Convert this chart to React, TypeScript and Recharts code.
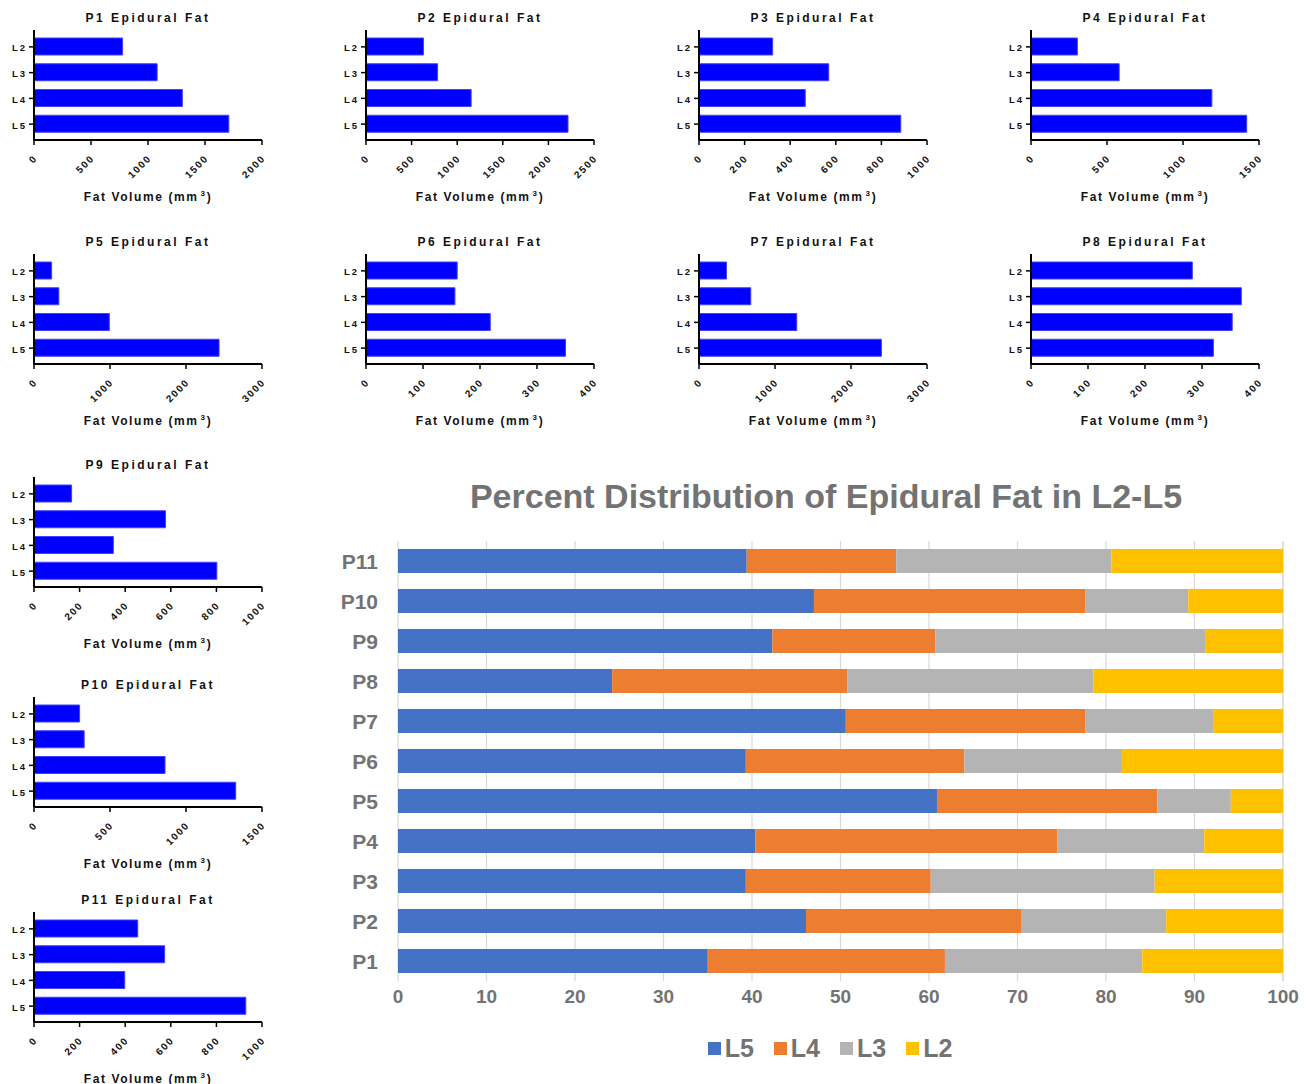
import React from 'react';
import { BarChart, Bar, XAxis, YAxis, CartesianGrid } from 'recharts';

// spinal levels shown in each small chart (top to bottom)
const levels = ['L2', 'L3', 'L4', 'L5'];

// epidural fat volume (mm3) per patient, in the order L2, L3, L4, L5
const p1Vol = [777, 1080, 1301, 1709];
const p2Vol = [631, 785, 1153, 2215];
const p3Vol = [323, 569, 466, 885];
const p4Vol = [305, 580, 1190, 1419];
const p5Vol = [232, 327, 991, 2435];
const p6Vol = [160, 156, 218, 350];
const p7Vol = [362, 681, 1286, 2400];
const p8Vol = [283, 369, 353, 320];
const p9Vol = [165, 577, 348, 802];
const p10Vol = [300, 330, 862, 1327];
const p11Vol = [455, 573, 398, 929];

// axis maximum and tick step of each small chart
const volMax = [2000, 2500, 1000, 1500, 3000, 400, 3000, 400, 1000, 1500, 1000];
const volStep = [500, 500, 200, 500, 1000, 100, 1000, 100, 200, 500, 200];

// percent distribution chart
const patients = ['P1', 'P2', 'P3', 'P4', 'P5', 'P6', 'P7', 'P8', 'P9', 'P10', 'P11'];
const pctL5 = [35.0, 46.1, 39.3, 40.4, 60.9, 39.3, 50.6, 24.2, 42.3, 47.0, 39.4];
const pctL4 = [26.8, 24.3, 20.9, 34.1, 24.9, 24.7, 27.1, 26.6, 18.4, 30.7, 16.9];
const pctL3 = [22.3, 16.4, 25.3, 16.6, 8.3, 17.8, 14.4, 27.8, 30.5, 11.6, 24.3];
const pctL2 = [15.9, 13.2, 14.5, 8.9, 5.9, 18.2, 7.9, 21.4, 8.8, 10.7, 19.4];
const pctTicks = [0, 10, 20, 30, 40, 50, 60, 70, 80, 90, 100];

const allVols = [p1Vol, p2Vol, p3Vol, p4Vol, p5Vol, p6Vol, p7Vol, p8Vol, p9Vol, p10Vol, p11Vol];

// where each small chart sits on the page
const slots = [
  [0, 0], [332, 0], [665, 0], [997, 0],
  [0, 224], [332, 224], [665, 224], [997, 224],
  [0, 447], [0, 667], [0, 882],
];

const font = '"Liberation Sans", Arial, sans-serif';
const gray = '#737373';

const colors = { L5: '#4472c4', L4: '#ed7d31', L3: '#b4b4b4', L2: '#ffc000' };

const VolTick = (props: any) => {
  const { x, y, payload } = props;
  const tx = x + 4;
  const ty = y + 12;
  return (
    <text
      x={tx}
      y={ty}
      transform={`rotate(-45 ${tx} ${ty})`}
      textAnchor="end"
      fontFamily={font}
      fontWeight="bold"
      fontSize={10}
      fill="#111"
      style={{ letterSpacing: '1.5px' }}
    >
      {payload.value}
    </text>
  );
};

const LevelTick = (props: any) => {
  const { x, y, payload } = props;
  return (
    <text
      x={x}
      y={y + 4.5}
      textAnchor="end"
      fontFamily={font}
      fontWeight="bold"
      fontSize={9.5}
      fill="#111"
      style={{ letterSpacing: '2px' }}
    >
      {payload.value}
    </text>
  );
};

const SmallChart = ({ name, values, max, step, left, top }: any) => {
  const data = levels.map((level, i) => ({ level, value: values[i] }));
  const ticks: number[] = [];
  for (let v = 0; v <= max; v += step) ticks.push(v);
  return (
    <div style={{ position: 'absolute', left, top, width: 330, height: 215 }}>
      <div
        style={{
          position: 'absolute', left: 34, width: 228, top: 11.5, textAlign: 'center',
          fontFamily: font, fontWeight: 'bold', fontSize: 12, lineHeight: '12px',
          letterSpacing: '2.5px', color: '#111', whiteSpace: 'nowrap',
        }}
      >
        {name} Epidural Fat
      </div>
      <BarChart
        layout="vertical"
        width={330}
        height={215}
        data={data}
        margin={{ top: 30, right: 68, bottom: 35, left: 0 }}
      >
        <XAxis
          type="number"
          domain={[0, max]}
          ticks={ticks}
          interval={0}
          height={40}
          axisLine={{ stroke: '#000', strokeWidth: 2 }}
          tickLine={{ stroke: '#000', strokeWidth: 1.5 }}
          tickSize={5}
          tick={<VolTick />}
        />
        <YAxis
          type="category"
          dataKey="level"
          width={34}
          padding={{ top: 4, bottom: 3 }}
          axisLine={{ stroke: '#000', strokeWidth: 2 }}
          tickLine={{ stroke: '#000', strokeWidth: 1.5 }}
          tickSize={5}
          tick={<LevelTick />}
        />
        <Bar dataKey="value" fill="#0000ff" stroke="#4040ff" strokeWidth={1} barSize={17} isAnimationActive={false} />
      </BarChart>
      <div
        style={{
          position: 'absolute', left: 34, width: 228, top: 190.5, textAlign: 'center',
          fontFamily: font, fontWeight: 'bold', fontSize: 12, lineHeight: '12px',
          letterSpacing: '1.6px', color: '#111', whiteSpace: 'nowrap',
        }}
      >
        Fat Volume (mm<span style={{ fontSize: 8, position: 'relative', top: -5, marginLeft: 2 }}>3</span>)
      </div>
    </div>
  );
};

const PctTick = (props: any) => {
  const { x, y, payload } = props;
  return (
    <text x={x} y={y + 14} textAnchor="middle" fontFamily={font} fontWeight="bold" fontSize={19} fill={gray}>
      {payload.value}
    </text>
  );
};

const PatientTick = (props: any) => {
  const { x, y, payload } = props;
  return (
    <text x={x} y={y + 7.8} textAnchor="end" fontFamily={font} fontWeight="bold" fontSize={21} fill={gray}>
      {payload.value}
    </text>
  );
};

const PercentChart = () => {
  const data = patients.map((p, i) => ({ name: p, L5: pctL5[i], L4: pctL4[i], L3: pctL3[i], L2: pctL2[i] }));
  const series = ['L5', 'L4', 'L3', 'L2'];
  return (
    <div style={{ position: 'absolute', left: 330, top: 460, width: 976, height: 624 }}>
      <div
        style={{
          position: 'absolute', left: 0, width: 992, top: 15.5, textAlign: 'center',
          fontFamily: font, fontWeight: 'bold', fontSize: 34, lineHeight: '40px', color: gray,
          whiteSpace: 'nowrap',
        }}
      >
        Percent Distribution of Epidural Fat in L2-L5
      </div>
      <BarChart
        layout="vertical"
        width={976}
        height={624}
        data={data}
        margin={{ top: 81, right: 23, bottom: 63, left: 0 }}
      >
        <CartesianGrid horizontal={false} stroke="#d9d9d9" strokeWidth={1.2} />
        <XAxis
          type="number"
          domain={[0, 100]}
          ticks={pctTicks}
          interval={0}
          height={40}
          axisLine={false}
          tickLine={false}
          tick={<PctTick />}
        />
        <YAxis
          type="category"
          dataKey="name"
          reversed
          width={68}
          axisLine={false}
          tickLine={false}
          tickSize={0}
          tickMargin={20}
          tick={<PatientTick />}
        />
        {series.map((s) => (
          <Bar key={s} dataKey={s} stackId="a" fill={(colors as any)[s]} barSize={24} isAnimationActive={false} />
        ))}
      </BarChart>
      <div
        style={{
          position: 'absolute', left: 0, width: 1000, top: 573, height: 30,
          display: 'flex', justifyContent: 'center', alignItems: 'center', gap: 20,
        }}
      >
        {series.map((s) => (
          <div key={s} style={{ display: 'flex', alignItems: 'center', gap: 4 }}>
            <div style={{ width: 13, height: 13, background: (colors as any)[s] }} />
            <span style={{ fontFamily: font, fontWeight: 'bold', fontSize: 25, color: gray }}>{s}</span>
          </div>
        ))}
      </div>
    </div>
  );
};

const App = () => {
  return (
    <div style={{ position: 'absolute', left: 0, top: 0, width: 1306, height: 1084, background: '#fff' }}>
      {allVols.map((vals, i) => (
        <SmallChart
          key={i}
          name={patients[i]}
          values={vals}
          max={volMax[i]}
          step={volStep[i]}
          left={slots[i][0]}
          top={slots[i][1]}
        />
      ))}
      <PercentChart />
    </div>
  );
};

export default App;
